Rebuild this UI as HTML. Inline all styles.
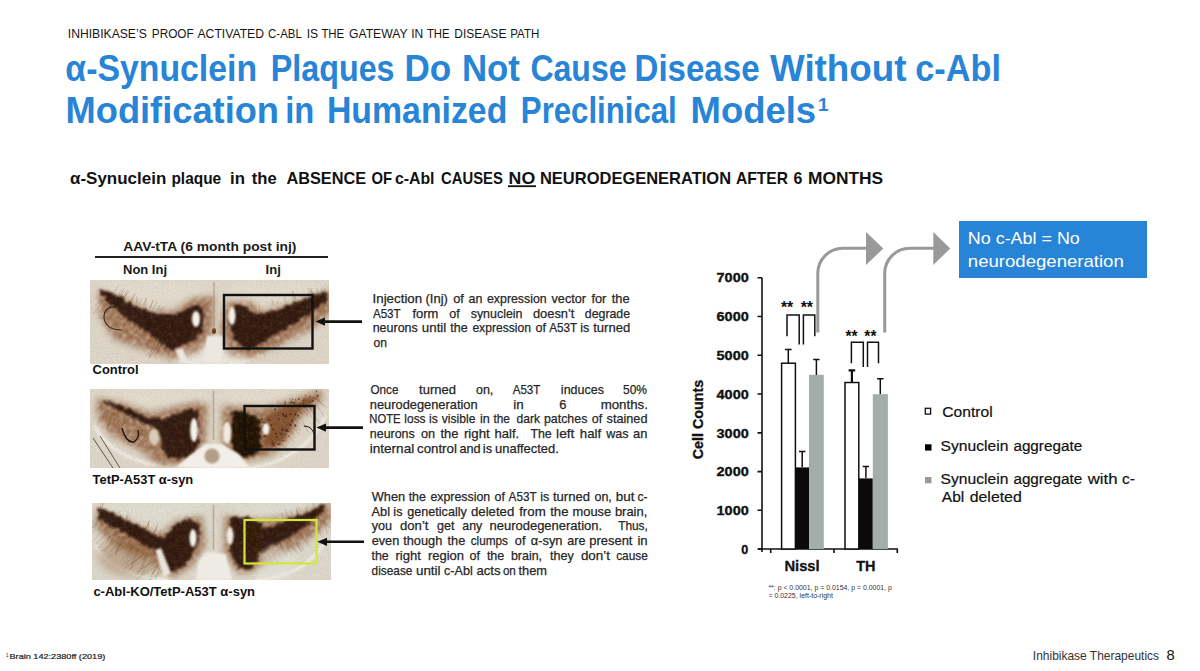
<!DOCTYPE html>
<html><head><meta charset="utf-8">
<style>
html,body{margin:0;padding:0;background:#fff;width:1200px;height:671px;overflow:hidden}
svg{display:block}
text{font-family:"Liberation Sans",sans-serif}
</style></head><body>
<svg width="1200" height="671" viewBox="0 0 1200 671">
<rect width="1200" height="671" fill="#fff"/>
<defs>
<filter id="bl1" x="-20%" y="-20%" width="140%" height="140%"><feGaussianBlur stdDeviation="1.2"/></filter>
<filter id="bl2" x="-30%" y="-30%" width="160%" height="160%"><feGaussianBlur stdDeviation="3"/></filter>
<filter id="bl3" x="-30%" y="-30%" width="160%" height="160%"><feGaussianBlur stdDeviation="5"/></filter>
<filter id="tex" x="0" y="0" width="100%" height="100%">
<feTurbulence type="fractalNoise" baseFrequency="0.8" numOctaves="2" seed="3" result="n"/>
<feColorMatrix in="n" type="matrix" values="0 0 0 0 0.35  0 0 0 0 0.2  0 0 0 0 0.08  2.5 0 0 0 -1.2" result="s"/>
<feComposite in="s" in2="SourceGraphic" operator="in"/>
</filter>
<filter id="rough" x="-10%" y="-10%" width="120%" height="120%">
<feTurbulence type="fractalNoise" baseFrequency="0.25" numOctaves="2" seed="7" result="t"/>
<feMorphology in="SourceGraphic" operator="erode" radius="2" result="er"/>
<feDisplacementMap in="er" in2="t" scale="7" xChannelSelector="R" yChannelSelector="G" result="d"/>
<feTurbulence type="fractalNoise" baseFrequency="0.45" numOctaves="2" seed="11" result="t2"/>
<feColorMatrix in="t2" type="matrix" values="0 0 0 0 0  0 0 0 0 0  0 0 0 0 0  2.0 0 0 0 0.15" result="a"/>
<feComposite in="d" in2="a" operator="in" result="da"/>
<feGaussianBlur in="da" stdDeviation="0.9"/>
</filter>
<clipPath id="c1"><rect x="90" y="280" width="239" height="84"/></clipPath>
<clipPath id="c2"><rect x="90" y="389" width="239" height="79"/></clipPath>
<clipPath id="c3"><rect x="92" y="503" width="239" height="77"/></clipPath>
<filter id="fib" x="-30%" y="-30%" width="160%" height="160%">
<feGaussianBlur in="SourceGraphic" stdDeviation="3" result="b"/>
<feTurbulence type="fractalNoise" baseFrequency="0.3" numOctaves="2" seed="21" result="t3"/>
<feColorMatrix in="t3" type="matrix" values="0 0 0 0 0  0 0 0 0 0  0 0 0 0 0  1.8 0 0 0 -0.1" result="a3"/>
<feComposite in="b" in2="a3" operator="in" result="c3"/>
<feGaussianBlur in="c3" stdDeviation="1.0"/>
</filter>
</defs><!-- IMAGE 1 -->
<g clip-path="url(#c1)">
<rect x="90" y="280" width="239" height="84" fill="#ddd6c9"/>
<ellipse cx="150" cy="292" rx="60" ry="12" fill="#e2dccf" filter="url(#bl3)"/>
<ellipse cx="275" cy="292" rx="50" ry="12" fill="#e2dccf" filter="url(#bl3)"/>
<ellipse cx="215" cy="355" rx="40" ry="12" fill="#ebe7df" filter="url(#bl3)"/>
<path d="M96 300 Q118 352 200 364 M322 300 Q300 352 230 364" stroke="#efece5" stroke-width="3" fill="none" filter="url(#bl1)"/>
<g fill="#8a5430" opacity="0.85" filter="url(#fib)">
<path d="M98 290 L125 299 L150 311 L175 311 L192 298 L214 296 L212 335 L198 352 L172 360 L150 352 L115 340 L100 318 Z"/>
<path d="M226 302 L250 302 L262 312 L290 304 L330 290 L332 312 L310 330 L280 346 L252 358 L228 354 L220 330 Z"/>
</g>
<g clip-path="url(#c1)"><path d="M142.0 326.5 L128.3 338.7 M161.5 342.2 L146.1 355.9 M105.8 297.4 L93.0 314.1 M143.6 327.8 L138.7 331.3 M132.6 319.0 L126.0 331.1 M139.0 324.1 L136.4 331.6 M121.0 309.7 L106.4 319.8 M113.7 303.8 L108.7 307.9 M141.7 326.3 L140.0 329.9 M157.2 338.7 L153.6 345.7 M163.9 344.1 L156.5 349.6 M162.7 343.1 L152.2 355.5 M116.5 306.0 L102.8 315.1 M163.0 343.4 L155.3 348.8 M126.0 313.7 L123.2 319.7 M108.0 299.2 L100.4 312.0 M104.2 296.2 L97.0 303.2 M122.9 311.2 L113.0 319.1 M123.3 311.5 L113.0 324.6 M107.5 298.8 L103.7 301.1 M149.7 332.7 L146.3 335.4 M152.1 334.6 L144.1 346.6 M104.6 296.4 L102.0 303.2 M162.3 342.8 L154.4 358.5 M160.7 341.6 L152.2 347.2 M125.6 313.4 L114.2 327.2 M110.6 301.3 L96.8 313.4 M156.4 338.1 L149.2 357.9 M109.6 300.5 L101.5 313.1 M160.0 341.0 L149.0 358.4 M137.3 322.7 L132.2 331.0 M114.8 304.7 L112.3 310.9 M146.0 329.8 L140.1 333.4 M107.0 298.4 L95.4 305.5 M128.8 315.9 L121.8 328.8 M154.4 336.5 L147.4 345.7 M107.4 298.7 L103.6 301.3 M134.1 320.2 L129.1 324.1 M148.6 331.9 L135.8 340.3 M152.1 334.6 L147.4 345.5 M113.1 303.3 L105.7 309.0 M131.6 318.2 L115.1 328.2 M163.5 343.8 L155.9 354.0 M148.5 331.7 L142.8 339.0 M128.6 315.8 L124.1 325.6" stroke="#6a4024" stroke-width="0.7" opacity="0.3" fill="none"/><path d="M159.3 311.7 L164.1 306.1 M132.0 301.0 L132.9 297.5 M119.2 296.0 L124.2 288.4 M124.2 297.9 L128.8 290.9 M142.9 305.3 L146.8 297.9 M124.4 298.0 L126.8 293.7 M131.2 300.7 L135.4 294.1 M120.5 296.5 L125.2 290.6 M136.5 302.8 L136.7 295.9 M118.0 295.5 L121.0 290.0 M149.7 308.0 L153.7 300.3 M123.5 297.7 L127.2 290.4 M150.4 308.2 L152.7 299.6 M152.7 309.1 L157.5 300.5 M157.6 311.0 L160.1 304.8 M113.3 293.7 L118.8 285.8 M130.7 300.5 L134.6 293.5 M144.9 306.1 L146.1 297.7 M136.5 302.8 L139.3 297.5 M138.9 303.7 L142.9 297.4" stroke="#6a4024" stroke-width="0.7" opacity="0.3" fill="none"/><path d="M302.6 311.1 L307.9 315.6 M280.3 324.3 L283.6 331.5 M299.9 312.8 L301.9 317.1 M282.7 322.8 L286.0 326.6 M255.7 338.7 L260.1 344.5 M260.5 335.9 L269.8 344.0 M275.4 327.1 L281.8 340.3 M264.0 333.8 L265.0 337.7 M277.4 325.9 L284.6 334.8 M254.2 339.6 L257.4 349.8 M247.9 343.3 L250.4 348.4 M288.6 319.4 L297.3 330.9 M321.7 300.0 L325.2 311.0 M310.0 306.8 L314.5 316.5 M256.4 338.3 L262.7 351.0 M321.6 300.0 L324.6 314.7 M273.1 328.5 L274.1 332.4 M253.6 339.9 L260.7 353.3 M256.3 338.4 L264.8 356.5 M275.1 327.3 L279.5 334.1 M268.3 331.3 L270.5 341.9 M321.9 299.8 L325.4 314.1 M265.8 332.8 L268.3 345.5 M278.2 325.5 L291.5 342.7 M284.3 321.9 L292.3 331.7 M254.8 339.3 L259.9 350.1 M268.4 331.2 L274.6 349.1 M246.1 344.4 L250.4 352.2 M319.8 301.0 L322.6 309.0 M266.4 332.4 L281.6 348.0 M268.5 331.2 L274.0 342.5 M296.6 314.7 L304.3 330.3 M254.5 339.4 L257.7 348.3 M287.7 319.9 L293.3 327.4 M287.4 320.1 L292.9 329.0 M304.6 310.0 L306.7 314.1 M265.2 333.1 L276.1 350.5 M316.0 303.3 L318.1 307.0 M307.3 308.4 L315.2 320.4 M301.7 311.7 L307.0 323.2" stroke="#6a4024" stroke-width="0.7" opacity="0.3" fill="none"/><path d="M318.4 293.8 L316.5 288.4 M313.9 295.0 L311.6 290.4 M312.3 295.4 L307.5 287.9 M302.1 298.1 L300.6 293.3 M308.6 296.4 L308.7 292.4 M285.9 302.4 L284.4 296.1 M274.8 305.4 L271.4 299.2 M310.9 295.8 L308.4 291.9 M311.5 295.6 L311.0 288.0 M251.9 311.5 L250.9 301.7 M324.9 292.0 L324.5 288.7 M313.2 295.2 L309.8 288.4 M321.4 293.0 L321.0 289.0 M271.9 306.2 L272.1 302.1 M295.8 299.8 L294.5 295.9 M296.7 299.6 L294.6 296.4 M278.4 304.4 L276.6 301.5 M293.1 300.5 L292.3 291.4 M260.1 309.3 L258.5 304.4 M295.0 300.0 L292.5 290.8" stroke="#6a4024" stroke-width="0.7" opacity="0.3" fill="none"/></g><g fill="#2e1307" filter="url(#rough)">
<path d="M98 287 L112 290 L127 298 L143 307 L160 312 L176 312 L190 304 L201 300 L206 312 L204 332 L197 342 L183 348 L170 354 L158 344 L146 335 L126 322 L110 307 L99 297 Z"/>
<path d="M232 302 L245 303 L256 312 L275 308 L295 300 L315 292 L329 288 L330 301 L312 316 L292 328 L272 340 L256 350 L244 351 L234 344 L228 330 L228 315 Z"/>
</g>
<rect x="90" y="280" width="239" height="84" fill="#7a4a25" filter="url(#tex)" opacity="0.22"/>
<path d="M116 307 Q104 306 104 318 Q106 330 122 330" fill="none" stroke="#2a1a10" stroke-width="1.2" opacity="0.85"/><path d="M116 307 Q126 310 124 322" fill="none" stroke="#5a4030" stroke-width="0.8" opacity="0.5"/>
<ellipse cx="196" cy="319" rx="4" ry="8" fill="#f4f2ec" filter="url(#bl1)"/>
<ellipse cx="232" cy="316" rx="3.5" ry="9" fill="#f4f2ec" filter="url(#bl1)"/>
<path d="M207 336 L223 336 L221 362 L203 362 Z" fill="#ece8e0" filter="url(#bl1)"/>
<path d="M175 350 L181 362 L188 362 L183 348 Z" fill="#ece8e0" filter="url(#bl1)"/>
<ellipse cx="214" cy="331" rx="2" ry="3" fill="#6a3a1c"/>
<path d="M214 282 V330" stroke="#a58a70" stroke-width="1.5" opacity="0.6"/>
</g>
<rect x="224" y="295" width="88.5" height="53.5" fill="none" stroke="#111" stroke-width="2.4"/>
<!-- IMAGE 2 -->
<g clip-path="url(#c2)">
<rect x="90" y="389" width="239" height="79" fill="#ddd6c9"/>
<ellipse cx="150" cy="398" rx="60" ry="10" fill="#e2dccf" filter="url(#bl3)"/>
<ellipse cx="270" cy="396" rx="50" ry="9" fill="#e2dccf" filter="url(#bl3)"/>
<path d="M94 425 Q112 462 175 468 M326 415 Q305 460 250 468" stroke="#efece5" stroke-width="3" fill="none" filter="url(#bl1)"/>
<g fill="#8a5430" opacity="0.85" filter="url(#fib)">
<path d="M96 398 L120 402 L150 413 L170 408 L195 402 L208 405 L205 445 L198 464 L160 466 L140 450 L112 436 L98 418 Z"/>
<path d="M222 406 L262 408 L295 398 L322 390 L322 400 L300 418 L288 440 L270 456 L240 462 L222 452 Z"/>
</g>
<g fill="#7a4624" opacity="0.8" filter="url(#rough)">
<path d="M262 416 L280 406 L300 398 L318 393 L318 402 L302 412 L294 426 L286 442 L272 450 L262 448 Z"/>
</g>
<g clip-path="url(#c2)"><path d="M121.7 416.7 L118.1 432.9 M108.8 409.1 L101.1 419.8 M152.8 435.0 L144.6 447.7 M115.3 413.0 L110.7 420.2 M143.5 429.5 L140.2 435.0 M113.6 412.0 L106.2 427.6 M110.4 410.1 L100.5 422.4 M104.9 406.9 L101.5 411.4 M107.2 408.2 L102.6 415.1 M150.9 433.8 L146.0 442.4 M146.2 431.1 L142.8 447.8 M103.1 405.8 L97.2 426.1 M139.5 427.2 L137.5 432.9 M156.4 437.1 L145.1 452.1 M108.1 408.8 L102.1 417.2 M113.6 412.0 L107.6 425.8 M120.2 415.9 L117.4 421.7 M148.2 432.3 L137.3 447.1 M125.1 418.7 L115.8 428.2 M134.4 424.1 L124.9 438.6 M122.9 417.4 L121.8 421.9 M111.7 410.9 L107.6 430.5 M127.9 420.4 L125.3 423.4 M127.3 420.0 L116.4 430.5 M124.9 418.6 L122.1 423.6 M109.0 409.3 L105.9 419.5 M122.4 417.1 L117.6 421.8 M114.7 412.6 L112.2 419.1 M116.6 413.8 L112.4 425.7 M101.9 405.1 L94.0 412.3 M154.4 435.9 L144.5 448.6 M127.4 420.0 L122.8 424.1 M138.8 426.7 L132.7 441.7 M142.3 428.8 L140.1 436.1 M101.4 404.8 L99.6 409.9 M123.3 417.6 L115.2 424.5 M118.1 414.6 L113.7 422.6 M142.5 428.9 L138.1 434.3 M114.0 412.2 L101.3 428.8 M137.5 426.0 L127.5 445.1" stroke="#6a4024" stroke-width="0.7" opacity="0.3" fill="none"/><path d="M265.3 439.7 L280.3 449.8 M286.7 422.8 L298.3 430.4 M317.4 398.4 L323.7 406.6 M270.0 436.1 L286.6 447.5 M291.0 419.4 L292.8 424.0 M277.9 429.8 L287.2 435.9 M268.2 437.5 L276.6 445.0 M281.2 427.2 L285.1 429.7 M316.5 399.2 L326.8 407.4 M286.3 423.1 L289.7 427.5 M281.6 426.8 L292.8 434.9 M313.8 401.3 L324.8 417.3 M276.4 431.0 L288.0 438.3 M290.8 419.6 L297.1 428.3 M298.1 413.7 L308.1 431.6 M281.3 427.1 L293.5 441.4 M276.9 430.6 L284.6 436.3 M269.6 436.3 L278.3 453.0 M281.6 426.9 L286.0 430.1 M278.0 429.7 L287.6 436.4 M295.6 415.8 L299.4 419.1 M302.1 410.6 L308.5 414.8 M280.2 428.0 L284.1 432.2 M287.3 422.3 L299.9 434.6 M294.5 416.6 L300.5 431.2 M305.3 408.1 L312.2 417.8 M308.3 405.7 L319.6 423.6 M303.6 409.4 L308.0 417.0 M308.0 405.9 L312.4 410.5 M268.5 437.2 L275.3 442.6 M300.8 411.6 L304.6 415.1 M305.5 407.9 L308.1 411.6 M267.7 437.9 L276.0 444.1 M310.6 403.9 L315.8 418.0 M277.2 430.3 L284.2 438.2 M282.5 426.1 L294.8 433.8 M308.8 405.3 L311.6 410.3 M293.1 417.7 L306.2 428.1 M288.6 421.3 L295.2 438.4 M271.3 435.0 L285.9 449.3" stroke="#6a4024" stroke-width="0.7" opacity="0.3" fill="none"/><path d="M287.8 407.9 L285.3 402.3 M305.0 401.1 L304.5 394.4 M316.3 396.7 L315.2 393.1 M307.6 400.1 L306.2 397.0 M316.8 396.5 L312.2 391.1 M289.0 407.4 L288.4 401.7 M274.1 413.3 L271.8 409.5 M293.5 405.6 L289.7 398.3 M275.5 412.7 L273.3 408.5 M317.0 396.4 L315.8 387.5 M296.6 404.4 L294.9 400.8 M308.6 399.7 L307.4 396.7 M271.5 414.3 L266.6 407.9 M312.4 398.2 L307.7 391.0 M280.1 410.9 L277.9 402.1" stroke="#6a4024" stroke-width="0.7" opacity="0.3" fill="none"/></g><g fill="#2e1307" filter="url(#rough)">
<path d="M98 397 L115 401 L135 408 L150 416 L162 417 L175 411 L190 406 L200 408 L201 440 L197 458 L180 462 L166 460 L160 448 L156 432 L140 424 L120 414 L102 405 Z"/>
<path d="M230 408 L250 410 L262 418 L263 450 L256 458 L236 459 L229 445 Z" fill="#1f0d06"/>
</g>
<rect x="90" y="389" width="239" height="79" fill="#7a4a25" filter="url(#tex)" opacity="0.22"/>
<g fill="#2a1208" opacity="0.6"><circle cx="286.7" cy="414.3" r="0.6"/><circle cx="263.0" cy="426.0" r="0.9"/><circle cx="303.0" cy="400.2" r="0.7"/><circle cx="264.9" cy="422.9" r="1.1"/><circle cx="281.8" cy="438.5" r="0.6"/><circle cx="276.1" cy="433.8" r="1.0"/><circle cx="275.4" cy="442.6" r="0.6"/><circle cx="264.9" cy="428.8" r="0.6"/><circle cx="263.2" cy="425.1" r="0.5"/><circle cx="263.3" cy="422.3" r="1.1"/><circle cx="284.0" cy="415.9" r="0.9"/><circle cx="263.8" cy="427.7" r="0.6"/><circle cx="295.6" cy="399.7" r="0.7"/><circle cx="265.5" cy="435.9" r="1.2"/><circle cx="272.7" cy="429.7" r="0.5"/><circle cx="280.7" cy="433.8" r="0.9"/><circle cx="306.0" cy="395.6" r="0.7"/><circle cx="286.0" cy="416.1" r="1.2"/><circle cx="284.9" cy="403.9" r="0.8"/><circle cx="288.8" cy="436.1" r="0.7"/><circle cx="282.9" cy="414.2" r="1.1"/><circle cx="280.9" cy="433.4" r="0.6"/><circle cx="310.3" cy="406.8" r="0.5"/><circle cx="282.1" cy="429.8" r="1.2"/><circle cx="292.8" cy="398.9" r="0.6"/><circle cx="262.1" cy="419.3" r="1.0"/><circle cx="313.0" cy="401.0" r="1.0"/><circle cx="268.7" cy="430.9" r="0.6"/><circle cx="306.4" cy="404.5" r="0.5"/><circle cx="268.9" cy="419.7" r="0.9"/><circle cx="290.5" cy="424.9" r="1.1"/><circle cx="262.1" cy="431.8" r="0.9"/><circle cx="276.6" cy="437.1" r="1.0"/><circle cx="264.4" cy="435.5" r="0.8"/><circle cx="288.4" cy="431.4" r="0.5"/><circle cx="295.4" cy="414.3" r="1.1"/><circle cx="272.3" cy="443.5" r="1.0"/><circle cx="269.7" cy="429.5" r="0.6"/><circle cx="287.2" cy="424.8" r="0.5"/><circle cx="309.6" cy="396.9" r="0.7"/><circle cx="272.3" cy="440.7" r="0.6"/><circle cx="290.4" cy="414.0" r="0.9"/><circle cx="290.1" cy="402.8" r="0.8"/><circle cx="316.5" cy="391.4" r="0.6"/><circle cx="273.6" cy="445.4" r="0.9"/><circle cx="275.1" cy="409.5" r="1.1"/><circle cx="318.0" cy="396.1" r="0.7"/><circle cx="273.3" cy="429.3" r="0.8"/><circle cx="279.5" cy="444.4" r="0.8"/><circle cx="286.6" cy="429.7" r="0.9"/><circle cx="285.3" cy="402.1" r="0.8"/><circle cx="291.7" cy="402.3" r="1.0"/><circle cx="298.8" cy="399.0" r="0.9"/><circle cx="278.9" cy="419.1" r="0.9"/><circle cx="303.5" cy="403.7" r="0.9"/><circle cx="292.3" cy="420.6" r="1.1"/><circle cx="278.1" cy="444.2" r="0.9"/><circle cx="264.1" cy="436.6" r="0.7"/><circle cx="298.2" cy="415.7" r="1.1"/><circle cx="300.8" cy="413.3" r="0.7"/><circle cx="277.9" cy="415.0" r="0.6"/><circle cx="304.8" cy="407.7" r="0.6"/><circle cx="286.0" cy="434.2" r="0.7"/><circle cx="278.5" cy="438.6" r="0.7"/><circle cx="295.3" cy="425.5" r="1.2"/><circle cx="271.1" cy="425.3" r="1.1"/><circle cx="286.7" cy="431.1" r="1.2"/><circle cx="317.8" cy="395.5" r="0.7"/><circle cx="294.0" cy="403.0" r="1.1"/><circle cx="283.2" cy="440.7" r="0.8"/></g>
<ellipse cx="154" cy="437" rx="5" ry="8" fill="#d9cdb8" filter="url(#bl1)"/>
<path d="M122 428 Q126 443 134 442 Q140 438 138 430" stroke="#1a0f08" stroke-width="1.3" fill="none"/>
<path d="M93 438 L113 468 M100 436 L120 468" stroke="#2a2520" stroke-width="0.9" fill="none" opacity="0.8"/>
<ellipse cx="194" cy="430" rx="3.8" ry="12" fill="#f4f2ec" filter="url(#bl1)"/>
<ellipse cx="227" cy="433" rx="4" ry="11" fill="#f0ece4" filter="url(#bl1)"/>
<ellipse cx="266" cy="429" rx="3.5" ry="6" fill="#f4f2ec" filter="url(#bl1)"/>
<path d="M175 468 L190 455 L205 444 L222 444 L240 455 L250 468 Z" fill="#f2efe8" filter="url(#bl1)"/>
<circle cx="212" cy="456" r="7.5" fill="#b49c86" filter="url(#bl1)"/>
<path d="M213.5 391 V440" stroke="#a58a70" stroke-width="1.5" opacity="0.6"/>
<path d="M304 426 Q311 426 314 433" stroke="#1a0f08" stroke-width="1" fill="none"/>
</g>
<rect x="244.5" y="406" width="70" height="43.5" fill="none" stroke="#111" stroke-width="2.4"/>
<!-- IMAGE 3 -->
<g clip-path="url(#c3)">
<rect x="92" y="503" width="239" height="77" fill="#dcd8cc"/>
<ellipse cx="150" cy="512" rx="60" ry="10" fill="#e0dcd0" filter="url(#bl3)"/>
<ellipse cx="280" cy="512" rx="50" ry="9" fill="#e0dcd0" filter="url(#bl3)"/>
<path d="M95 545 Q112 576 170 580 M326 540 Q305 577 255 580" stroke="#eef0ea" stroke-width="3" fill="none" filter="url(#bl1)"/>
<ellipse cx="132" cy="556" rx="34" ry="20" fill="#a58260" opacity="0.55" filter="url(#bl3)"/>
<g fill="#8a5430" opacity="0.85" filter="url(#fib)">
<path d="M96 510 L130 522 L160 535 L178 520 L202 516 L206 545 L192 566 L172 578 L150 560 L118 548 L96 528 Z"/>
<path d="M224 516 L262 520 L300 514 L330 502 L332 520 L310 538 L280 556 L262 568 L240 574 L224 556 Z"/>
</g>
<g clip-path="url(#c3)"><path d="M139.7 549.3 L129.1 557.8 M98.7 515.6 L86.8 529.8 M110.4 525.2 L103.3 535.2 M99.8 516.5 L92.5 528.2 M129.9 541.2 L119.4 550.8 M163.8 569.0 L143.1 585.2 M144.4 553.1 L131.9 565.1 M151.5 558.9 L141.1 574.4 M143.5 552.4 L136.1 561.2 M103.2 519.3 L98.1 531.4 M136.9 546.9 L120.5 560.8 M118.6 531.9 L109.1 538.1 M146.0 554.4 L137.5 575.1 M142.9 551.8 L121.2 565.5 M144.1 552.8 L126.5 566.1 M138.9 548.6 L131.1 563.6 M158.0 564.3 L144.8 588.3 M134.4 544.9 L131.5 549.1 M124.1 536.5 L115.2 554.4 M158.3 564.5 L142.5 575.2 M123.9 536.3 L115.5 555.4 M135.1 545.4 L125.0 554.5 M157.4 563.8 L151.8 574.4 M115.9 529.7 L98.0 548.1 M109.2 524.2 L93.3 540.3 M113.1 527.4 L106.3 544.1 M153.6 560.7 L135.9 573.3 M125.9 537.9 L115.7 551.7 M158.6 564.8 L152.6 574.5 M138.6 548.3 L130.7 553.2 M100.0 516.7 L92.8 533.1 M138.4 548.2 L134.2 556.6 M137.8 547.7 L123.0 562.4 M146.8 555.1 L140.8 570.1 M153.9 560.9 L143.5 567.5 M155.0 561.8 L136.3 580.3 M113.3 527.6 L95.5 544.1 M129.9 541.2 L126.2 549.9 M108.5 523.6 L105.2 531.4 M139.3 548.9 L130.3 569.4 M147.3 555.5 L128.8 569.9 M145.8 554.2 L123.3 569.2 M139.9 549.4 L133.6 553.3 M104.9 520.7 L101.3 529.7 M123.1 535.6 L110.5 551.9 M147.8 555.9 L142.3 569.0 M134.4 544.9 L130.1 551.2 M138.0 547.8 L126.3 565.0 M131.2 542.3 L108.5 556.4 M102.8 519.0 L86.3 532.9 M117.8 531.3 L111.3 545.9 M121.7 534.5 L102.0 551.7 M123.6 536.0 L115.1 550.1 M144.7 553.3 L130.5 564.8 M117.8 531.3 L104.5 551.9 M132.8 543.6 L127.4 557.2 M113.9 528.1 L109.1 532.7 M116.2 529.9 L109.9 544.6 M164.0 569.2 L154.9 579.6 M160.6 566.4 L155.4 578.5" stroke="#6a4024" stroke-width="0.7" opacity="0.3" fill="none"/><path d="M148.3 530.3 L148.6 521.9 M120.4 519.0 L120.6 514.3 M126.4 521.5 L128.4 515.1 M101.3 511.3 L103.1 501.7 M125.4 521.1 L126.7 517.7 M115.3 517.0 L120.3 511.0 M129.5 522.7 L129.9 517.0 M146.3 529.5 L148.6 522.7 M153.9 532.6 L157.4 526.0 M100.2 510.9 L100.7 502.5 M123.6 520.3 L128.9 513.3 M154.8 532.9 L157.7 523.3 M144.9 528.9 L147.4 525.7 M146.4 529.5 L149.6 520.2 M159.6 534.9 L160.7 529.0 M114.8 516.8 L116.6 512.1 M139.3 526.7 L139.8 522.5 M126.4 521.4 L126.9 515.8 M153.6 532.4 L156.3 529.0 M99.1 510.5 L104.7 502.5" stroke="#6a4024" stroke-width="0.7" opacity="0.3" fill="none"/><path d="M299.7 524.8 L307.0 531.3 M320.0 511.4 L321.5 516.8 M273.6 542.2 L279.8 550.5 M309.5 518.3 L322.3 534.3 M271.6 543.6 L284.9 564.2 M306.2 520.5 L311.8 525.1 M302.5 523.0 L310.3 532.6 M292.1 529.9 L304.4 550.9 M277.2 539.9 L282.5 548.7 M296.4 527.1 L299.5 534.1 M292.3 529.8 L294.5 534.5 M310.6 517.6 L319.6 529.7 M300.5 524.4 L302.7 530.0 M293.5 529.0 L303.6 536.8 M283.8 535.5 L292.5 542.1 M290.4 531.1 L301.2 551.9 M285.3 534.4 L295.7 550.7 M321.0 510.6 L327.7 534.5 M281.0 537.3 L298.3 553.4 M266.9 546.7 L278.4 562.8 M295.3 527.8 L309.8 546.3 M280.9 537.4 L292.2 555.8 M270.7 544.2 L280.2 555.7 M297.7 526.2 L307.7 536.1 M265.8 547.5 L274.9 555.1 M271.1 544.0 L273.7 553.9 M279.4 538.4 L286.9 556.8 M278.5 539.0 L284.6 555.4 M286.5 533.7 L291.2 542.4 M278.6 538.9 L283.0 552.0 M318.5 512.3 L324.2 517.6 M265.3 547.8 L271.9 562.6 M262.6 549.6 L279.5 562.8 M293.1 529.2 L295.0 534.7 M299.1 525.3 L313.8 538.0 M300.5 524.3 L305.1 532.6 M321.8 510.1 L326.5 514.2 M305.1 521.3 L310.0 525.3 M291.0 530.7 L301.6 550.9 M307.4 519.7 L321.3 531.0 M315.1 514.6 L330.3 527.8 M278.3 539.1 L281.6 542.9 M309.8 518.2 L322.3 537.5 M291.3 530.4 L298.2 536.7 M278.6 538.9 L281.1 547.7" stroke="#6a4024" stroke-width="0.7" opacity="0.3" fill="none"/><path d="M260.9 527.8 L259.3 524.6 M283.5 519.4 L281.5 512.1 M266.7 525.6 L263.0 520.4 M301.0 512.8 L298.3 506.3 M316.1 507.2 L313.3 503.2 M288.1 517.7 L285.1 508.9 M292.2 516.1 L290.8 510.4 M307.5 510.4 L306.9 505.4 M262.2 527.3 L259.5 522.5 M314.6 507.8 L310.9 501.3 M297.9 514.0 L297.8 510.2 M306.6 510.8 L304.9 507.4 M297.3 514.2 L296.5 507.2 M258.3 528.8 L258.2 523.1 M297.6 514.1 L296.7 509.4" stroke="#6a4024" stroke-width="0.7" opacity="0.3" fill="none"/></g><g fill="#2e1307" filter="url(#rough)">
<path d="M94 505 L110 509 L130 519 L150 529 L162 535 L170 527 L178 519 L192 517 L202 522 L200 545 L192 562 L180 572 L172 577 L163 567 L155 555 L138 544 L118 533 L97 521 Z"/>
<path d="M228 515 L250 515 L264 522 L264 545 L260 562 L252 572 L236 570 L228 555 Z"/>
<path d="M248 531 L270 524 L290 516 L310 508 L326 501 L329 510 L313 523 L293 538 L273 549 L262 556 Z"/>
</g>
<rect x="92" y="503" width="239" height="77" fill="#7a4a25" filter="url(#tex)" opacity="0.22"/>
<path d="M155 550 L161 548 L171 573 L164 578 Z" fill="#e8e4da" filter="url(#bl1)"/>
<ellipse cx="193" cy="538" rx="3.5" ry="9" fill="#f4f2ec" filter="url(#bl1)"/>
<ellipse cx="230" cy="536" rx="3.5" ry="9" fill="#f0ece4" filter="url(#bl1)"/>
<path d="M262 553 L275 545 L295 555 L290 580 L255 580 Z" fill="#e4e2da" opacity="0.6" filter="url(#bl2)"/>
<path d="M198 562 L206 552 L226 554 L232 580 L196 580 Z" fill="#eeebe4" filter="url(#bl1)"/>
<path d="M213.5 505 V550" stroke="#a58a70" stroke-width="1.5" opacity="0.6"/>
</g>
<rect x="244.5" y="520" width="72" height="43.5" fill="none" stroke="#d4e634" stroke-width="2.2"/>
<!-- arrows from text to images -->
<g stroke="#111" stroke-width="2.6" fill="none">
<path d="M322 321.6 H362"/>
<path d="M323 427.6 H363"/>
<path d="M324 541.8 H364"/>
</g>
<g fill="#111">
<path d="M315.5 321.6 L325 317.5 L325 325.7 Z"/>
<path d="M316.4 427.6 L326 423.5 L326 431.7 Z"/>
<path d="M317.3 541.8 L327 537.7 L327 545.9 Z"/>
</g>

<g id="chart" stroke-linecap="butt">
<g stroke="#111" stroke-width="1.6" fill="none">
<path d="M762 277.7 V552"/>
<path d="M757.5 277.7 H762 M757.5 316.5 H762 M757.5 355.3 H762 M757.5 394 H762 M757.5 432.9 H762 M757.5 471.6 H762 M757.5 510.3 H762 M757.5 549 H762"/>
<path d="M758 549 H898 M770.7 549 V553 M834 549 V553 M897.3 549 V553"/>
</g>
<text transform="translate(703.3 459.3) rotate(-90)" font-size="14" font-weight="bold" fill="#111" stroke="#111" stroke-width="0.3" textLength="79.6" lengthAdjust="spacingAndGlyphs">Cell Counts</text>
<!-- bars -->
<rect x="781.6" y="363.2" width="13.8" height="185.8" fill="#fff" stroke="#111" stroke-width="1.5"/>
<rect x="795.4" y="467.4" width="13.6" height="81.6" fill="#0a0a0a"/>
<rect x="809" y="374.8" width="14.8" height="174.2" fill="#a3adac"/>
<rect x="845" y="382.5" width="13.8" height="166.5" fill="#fff" stroke="#111" stroke-width="1.5"/>
<rect x="859" y="478.4" width="13.8" height="70.6" fill="#0a0a0a"/>
<rect x="872.8" y="394.2" width="15.1" height="154.8" fill="#a3adac"/>
<g stroke="#111" stroke-width="1.5" fill="none">
<path d="M788.3 363 V349.6 M785 349.6 H791.6"/>
<path d="M802.2 467 V451.5 M799 451.5 H805.4"/>
<path d="M816.4 375 V359.4 M813.2 359.4 H819.6"/>
<path d="M851.9 382 V370.3 M848.6 370.3 H855.2" stroke-width="2.2"/>
<path d="M865.9 478 V466.6 M862.7 466.6 H869.1"/>
<path d="M880.3 394 V378.8 M877.1 378.8 H883.5"/>
<path d="M787 336.2 V314.9 H799.2 V344.6"/>
<path d="M803.4 344.6 V314.9 H814.8 V336.2"/>
<path d="M851.4 363.3 V342.2 H863.3 V367"/>
<path d="M867.5 367 V342.2 H878.5 V363.3"/>
</g>
<g stroke="#999" stroke-width="3" fill="none">
<path d="M817.8 332.5 V273.3 A25 25 0 0 1 842.8 248.3 H867"/>
<path d="M884.7 332.5 V273.3 A25 25 0 0 1 909.7 248.3 H934"/>
</g>
<g fill="#999">
<path d="M866 232 L883.3 248.5 L866 265 Z"/>
<path d="M933.3 232 L950.2 248.5 L933.3 265 Z"/>
</g>
</g>



<rect x="508" y="185.3" width="28" height="1.8" fill="#111"/>
<rect x="95" y="256" width="233" height="2" fill="#222"/>
<rect x="959" y="221" width="188" height="57" fill="#2784D6"/>
<rect x="925.3" y="408.3" width="5.3" height="5.8" fill="#fff" stroke="#111" stroke-width="1.3"/>
<rect x="925" y="444.3" width="6.5" height="6.3" fill="#000"/>
<rect x="925" y="477" width="6.5" height="6.3" fill="#9a9a9a"/>
<text x="67.78" y="38.00" font-size="12.5" fill="#151515" textLength="79.00" lengthAdjust="spacingAndGlyphs">INHIBIKASE’S</text>
<text x="151.75" y="38.00" font-size="12.5" fill="#151515" textLength="41.99" lengthAdjust="spacingAndGlyphs">PROOF</text>
<text x="197.50" y="38.00" font-size="12.5" fill="#151515" textLength="66.54" lengthAdjust="spacingAndGlyphs">ACTIVATED</text>
<text x="268.08" y="38.00" font-size="12.5" fill="#151515" textLength="33.68" lengthAdjust="spacingAndGlyphs">C-ABL</text>
<text x="306.71" y="38.00" font-size="12.5" fill="#151515" textLength="11.48" lengthAdjust="spacingAndGlyphs">IS</text>
<text x="321.42" y="38.00" font-size="12.5" fill="#151515" textLength="22.81" lengthAdjust="spacingAndGlyphs">THE</text>
<text x="349.00" y="38.00" font-size="12.5" fill="#151515" textLength="58.48" lengthAdjust="spacingAndGlyphs">GATEWAY</text>
<text x="411.25" y="38.00" font-size="12.5" fill="#151515" textLength="12.01" lengthAdjust="spacingAndGlyphs">IN</text>
<text x="426.92" y="38.00" font-size="12.5" fill="#151515" textLength="22.65" lengthAdjust="spacingAndGlyphs">THE</text>
<text x="454.24" y="38.00" font-size="12.5" fill="#151515" textLength="52.19" lengthAdjust="spacingAndGlyphs">DISEASE</text>
<text x="510.29" y="38.00" font-size="12.5" fill="#151515" textLength="28.95" lengthAdjust="spacingAndGlyphs">PATH</text>
<text x="65.36" y="80.90" font-size="37.8" font-weight="bold" fill="#2784D6" textLength="191.77" lengthAdjust="spacingAndGlyphs">α-Synuclein</text>
<text x="270.79" y="80.90" font-size="37.8" font-weight="bold" fill="#2784D6" textLength="123.77" lengthAdjust="spacingAndGlyphs">Plaques</text>
<text x="404.41" y="80.90" font-size="37.8" font-weight="bold" fill="#2784D6" textLength="46.86" lengthAdjust="spacingAndGlyphs">Do</text>
<text x="461.91" y="80.90" font-size="37.8" font-weight="bold" fill="#2784D6" textLength="58.08" lengthAdjust="spacingAndGlyphs">Not</text>
<text x="530.40" y="80.90" font-size="37.8" font-weight="bold" fill="#2784D6" textLength="96.23" lengthAdjust="spacingAndGlyphs">Cause</text>
<text x="634.50" y="80.90" font-size="37.8" font-weight="bold" fill="#2784D6" textLength="125.04" lengthAdjust="spacingAndGlyphs">Disease</text>
<text x="770.00" y="80.90" font-size="37.8" font-weight="bold" fill="#2784D6" textLength="136.52" lengthAdjust="spacingAndGlyphs">Without</text>
<text x="915.34" y="80.90" font-size="37.8" font-weight="bold" fill="#2784D6" textLength="85.62" lengthAdjust="spacingAndGlyphs">c-Abl</text>
<text x="65.58" y="123.00" font-size="37.8" font-weight="bold" fill="#2784D6" textLength="213.42" lengthAdjust="spacingAndGlyphs">Modification</text>
<text x="285.29" y="123.00" font-size="37.8" font-weight="bold" fill="#2784D6" textLength="29.07" lengthAdjust="spacingAndGlyphs">in</text>
<text x="326.96" y="123.00" font-size="37.8" font-weight="bold" fill="#2784D6" textLength="180.37" lengthAdjust="spacingAndGlyphs">Humanized</text>
<text x="520.85" y="123.00" font-size="37.8" font-weight="bold" fill="#2784D6" textLength="155.89" lengthAdjust="spacingAndGlyphs">Preclinical</text>
<text x="690.57" y="123.00" font-size="37.8" font-weight="bold" fill="#2784D6" textLength="125.60" lengthAdjust="spacingAndGlyphs">Models</text>
<text x="817.92" y="110.50" font-size="17.5" font-weight="bold" fill="#2784D6" textLength="10.55" lengthAdjust="spacingAndGlyphs">1</text>
<text x="70.00" y="183.50" font-size="16.2" font-weight="bold" fill="#111" textLength="96.25" lengthAdjust="spacingAndGlyphs">α-Synuclein</text>
<text x="171.45" y="183.50" font-size="16.2" font-weight="bold" fill="#111" textLength="49.72" lengthAdjust="spacingAndGlyphs">plaque</text>
<text x="230.02" y="183.50" font-size="16.2" font-weight="bold" fill="#111" textLength="14.92" lengthAdjust="spacingAndGlyphs">in</text>
<text x="251.80" y="183.50" font-size="16.2" font-weight="bold" fill="#111" textLength="24.88" lengthAdjust="spacingAndGlyphs">the</text>
<text x="286.40" y="183.50" font-size="16.2" font-weight="bold" fill="#111" textLength="79.76" lengthAdjust="spacingAndGlyphs">ABSENCE</text>
<text x="371.42" y="183.50" font-size="16.2" font-weight="bold" fill="#111" textLength="20.60" lengthAdjust="spacingAndGlyphs">OF</text>
<text x="394.92" y="183.50" font-size="16.2" font-weight="bold" fill="#111" textLength="39.61" lengthAdjust="spacingAndGlyphs">c-Abl</text>
<text x="441.00" y="183.50" font-size="16.2" font-weight="bold" fill="#111" textLength="61.83" lengthAdjust="spacingAndGlyphs">CAUSES</text>
<text x="508.63" y="183.50" font-size="16.2" font-weight="bold" fill="#111" textLength="26.56" lengthAdjust="spacingAndGlyphs">NO</text>
<text x="539.98" y="183.50" font-size="16.2" font-weight="bold" fill="#111" textLength="191.10" lengthAdjust="spacingAndGlyphs">NEURODEGENERATION</text>
<text x="736.00" y="183.50" font-size="16.2" font-weight="bold" fill="#111" textLength="51.95" lengthAdjust="spacingAndGlyphs">AFTER</text>
<text x="793.58" y="183.50" font-size="16.2" font-weight="bold" fill="#111" textLength="8.86" lengthAdjust="spacingAndGlyphs">6</text>
<text x="807.93" y="183.50" font-size="16.2" font-weight="bold" fill="#111" textLength="75.22" lengthAdjust="spacingAndGlyphs">MONTHS</text>
<text x="123.30" y="250.80" font-size="12.8" font-weight="bold" fill="#1a1a1a" textLength="173.16" lengthAdjust="spacingAndGlyphs">AAV-tTA (6 month post inj)</text>
<text x="123.00" y="274.00" font-size="12.2" font-weight="bold" fill="#1a1a1a" textLength="44.02" lengthAdjust="spacingAndGlyphs">Non Inj</text>
<text x="265.64" y="274.00" font-size="12.2" font-weight="bold" fill="#1a1a1a" textLength="15.18" lengthAdjust="spacingAndGlyphs">Inj</text>
<text x="92.60" y="374.00" font-size="12.8" font-weight="bold" fill="#111" textLength="45.90" lengthAdjust="spacingAndGlyphs">Control</text>
<text x="92.60" y="483.80" font-size="12.8" font-weight="bold" fill="#111" textLength="100.58" lengthAdjust="spacingAndGlyphs">TetP-A53T α-syn</text>
<text x="93.40" y="596.40" font-size="12.8" font-weight="bold" fill="#111" textLength="161.68" lengthAdjust="spacingAndGlyphs">c-Abl-KO/TetP-A53T α-syn</text>
<text x="372.57" y="302.60" font-size="12.9" fill="#262626" textLength="49.58" lengthAdjust="spacingAndGlyphs" stroke="#262626" stroke-width="0.25">Injection</text>
<text x="425.50" y="302.60" font-size="12.9" fill="#262626" textLength="22.40" lengthAdjust="spacingAndGlyphs" stroke="#262626" stroke-width="0.25">(Inj)</text>
<text x="453.15" y="302.60" font-size="12.9" fill="#262626" textLength="10.76" lengthAdjust="spacingAndGlyphs" stroke="#262626" stroke-width="0.25">of</text>
<text x="468.62" y="302.60" font-size="12.9" fill="#262626" textLength="13.90" lengthAdjust="spacingAndGlyphs" stroke="#262626" stroke-width="0.25">an</text>
<text x="487.00" y="302.60" font-size="12.9" fill="#262626" textLength="59.63" lengthAdjust="spacingAndGlyphs" stroke="#262626" stroke-width="0.25">expression</text>
<text x="551.54" y="302.60" font-size="12.9" fill="#262626" textLength="34.42" lengthAdjust="spacingAndGlyphs" stroke="#262626" stroke-width="0.25">vector</text>
<text x="591.38" y="302.60" font-size="12.9" fill="#262626" textLength="14.99" lengthAdjust="spacingAndGlyphs" stroke="#262626" stroke-width="0.25">for</text>
<text x="611.78" y="302.60" font-size="12.9" fill="#262626" textLength="17.86" lengthAdjust="spacingAndGlyphs" stroke="#262626" stroke-width="0.25">the</text>
<text x="372.90" y="317.60" font-size="12.9" fill="#262626" textLength="27.73" lengthAdjust="spacingAndGlyphs" stroke="#262626" stroke-width="0.25">A53T</text>
<text x="412.48" y="317.60" font-size="12.9" fill="#262626" textLength="25.94" lengthAdjust="spacingAndGlyphs" stroke="#262626" stroke-width="0.25">form</text>
<text x="449.28" y="317.60" font-size="12.9" fill="#262626" textLength="10.50" lengthAdjust="spacingAndGlyphs" stroke="#262626" stroke-width="0.25">of</text>
<text x="470.70" y="317.60" font-size="12.9" fill="#262626" textLength="51.82" lengthAdjust="spacingAndGlyphs" stroke="#262626" stroke-width="0.25">synuclein</text>
<text x="532.95" y="317.60" font-size="12.9" fill="#262626" textLength="41.48" lengthAdjust="spacingAndGlyphs" stroke="#262626" stroke-width="0.25">doesn’t</text>
<text x="584.80" y="317.60" font-size="12.9" fill="#262626" textLength="45.30" lengthAdjust="spacingAndGlyphs" stroke="#262626" stroke-width="0.25">degrade</text>
<text x="372.63" y="332.30" font-size="12.9" fill="#262626" textLength="45.18" lengthAdjust="spacingAndGlyphs" stroke="#262626" stroke-width="0.25">neurons</text>
<text x="421.88" y="332.30" font-size="12.9" fill="#262626" textLength="24.39" lengthAdjust="spacingAndGlyphs" stroke="#262626" stroke-width="0.25">until</text>
<text x="450.32" y="332.30" font-size="12.9" fill="#262626" textLength="17.38" lengthAdjust="spacingAndGlyphs" stroke="#262626" stroke-width="0.25">the</text>
<text x="472.40" y="332.30" font-size="12.9" fill="#262626" textLength="58.52" lengthAdjust="spacingAndGlyphs" stroke="#262626" stroke-width="0.25">expression</text>
<text x="535.43" y="332.30" font-size="12.9" fill="#262626" textLength="10.51" lengthAdjust="spacingAndGlyphs" stroke="#262626" stroke-width="0.25">of</text>
<text x="549.17" y="332.30" font-size="12.9" fill="#262626" textLength="27.98" lengthAdjust="spacingAndGlyphs" stroke="#262626" stroke-width="0.25">A53T</text>
<text x="580.31" y="332.30" font-size="12.9" fill="#262626" textLength="9.01" lengthAdjust="spacingAndGlyphs" stroke="#262626" stroke-width="0.25">is</text>
<text x="593.18" y="332.30" font-size="12.9" fill="#262626" textLength="37.02" lengthAdjust="spacingAndGlyphs" stroke="#262626" stroke-width="0.25">turned</text>
<text x="373.60" y="347.20" font-size="12.9" fill="#262626" textLength="13.42" lengthAdjust="spacingAndGlyphs" stroke="#262626" stroke-width="0.25">on</text>
<text x="370.44" y="393.70" font-size="12.9" fill="#262626" textLength="27.96" lengthAdjust="spacingAndGlyphs" stroke="#262626" stroke-width="0.25">Once</text>
<text x="419.06" y="393.70" font-size="12.9" fill="#262626" textLength="36.85" lengthAdjust="spacingAndGlyphs" stroke="#262626" stroke-width="0.25">turned</text>
<text x="475.96" y="393.70" font-size="12.9" fill="#262626" textLength="17.38" lengthAdjust="spacingAndGlyphs" stroke="#262626" stroke-width="0.25">on,</text>
<text x="512.70" y="393.70" font-size="12.9" fill="#262626" textLength="27.63" lengthAdjust="spacingAndGlyphs" stroke="#262626" stroke-width="0.25">A53T</text>
<text x="560.87" y="393.70" font-size="12.9" fill="#262626" textLength="43.01" lengthAdjust="spacingAndGlyphs" stroke="#262626" stroke-width="0.25">induces</text>
<text x="623.02" y="393.70" font-size="12.9" fill="#262626" textLength="23.98" lengthAdjust="spacingAndGlyphs" stroke="#262626" stroke-width="0.25">50%</text>
<text x="369.80" y="408.50" font-size="12.9" fill="#262626" textLength="107.83" lengthAdjust="spacingAndGlyphs" stroke="#262626" stroke-width="0.25">neurodegeneration</text>
<text x="513.37" y="408.50" font-size="12.9" fill="#262626" textLength="10.40" lengthAdjust="spacingAndGlyphs" stroke="#262626" stroke-width="0.25">in</text>
<text x="559.20" y="408.50" font-size="12.9" fill="#262626" textLength="7.17" lengthAdjust="spacingAndGlyphs" stroke="#262626" stroke-width="0.25">6</text>
<text x="600.67" y="408.50" font-size="12.9" fill="#262626" textLength="47.21" lengthAdjust="spacingAndGlyphs" stroke="#262626" stroke-width="0.25">months.</text>
<text x="369.27" y="423.40" font-size="12.9" fill="#262626" textLength="31.23" lengthAdjust="spacingAndGlyphs" stroke="#262626" stroke-width="0.25">NOTE</text>
<text x="404.35" y="423.40" font-size="12.9" fill="#262626" textLength="21.22" lengthAdjust="spacingAndGlyphs" stroke="#262626" stroke-width="0.25">loss</text>
<text x="429.05" y="423.40" font-size="12.9" fill="#262626" textLength="8.76" lengthAdjust="spacingAndGlyphs" stroke="#262626" stroke-width="0.25">is</text>
<text x="441.70" y="423.40" font-size="12.9" fill="#262626" textLength="33.74" lengthAdjust="spacingAndGlyphs" stroke="#262626" stroke-width="0.25">visible</text>
<text x="480.04" y="423.40" font-size="12.9" fill="#262626" textLength="9.86" lengthAdjust="spacingAndGlyphs" stroke="#262626" stroke-width="0.25">in</text>
<text x="493.43" y="423.40" font-size="12.9" fill="#262626" textLength="16.57" lengthAdjust="spacingAndGlyphs" stroke="#262626" stroke-width="0.25">the</text>
<text x="516.49" y="423.40" font-size="12.9" fill="#262626" textLength="23.59" lengthAdjust="spacingAndGlyphs" stroke="#262626" stroke-width="0.25">dark</text>
<text x="543.97" y="423.40" font-size="12.9" fill="#262626" textLength="43.36" lengthAdjust="spacingAndGlyphs" stroke="#262626" stroke-width="0.25">patches</text>
<text x="591.83" y="423.40" font-size="12.9" fill="#262626" textLength="10.42" lengthAdjust="spacingAndGlyphs" stroke="#262626" stroke-width="0.25">of</text>
<text x="606.59" y="423.40" font-size="12.9" fill="#262626" textLength="40.88" lengthAdjust="spacingAndGlyphs" stroke="#262626" stroke-width="0.25">stained</text>
<text x="369.82" y="438.30" font-size="12.9" fill="#262626" textLength="44.90" lengthAdjust="spacingAndGlyphs" stroke="#262626" stroke-width="0.25">neurons</text>
<text x="420.96" y="438.30" font-size="12.9" fill="#262626" textLength="14.12" lengthAdjust="spacingAndGlyphs" stroke="#262626" stroke-width="0.25">on</text>
<text x="440.53" y="438.30" font-size="12.9" fill="#262626" textLength="17.95" lengthAdjust="spacingAndGlyphs" stroke="#262626" stroke-width="0.25">the</text>
<text x="463.96" y="438.30" font-size="12.9" fill="#262626" textLength="25.83" lengthAdjust="spacingAndGlyphs" stroke="#262626" stroke-width="0.25">right</text>
<text x="494.59" y="438.30" font-size="12.9" fill="#262626" textLength="24.58" lengthAdjust="spacingAndGlyphs" stroke="#262626" stroke-width="0.25">half.</text>
<text x="530.42" y="438.30" font-size="12.9" fill="#262626" textLength="21.27" lengthAdjust="spacingAndGlyphs" stroke="#262626" stroke-width="0.25">The</text>
<text x="556.10" y="438.30" font-size="12.9" fill="#262626" textLength="18.35" lengthAdjust="spacingAndGlyphs" stroke="#262626" stroke-width="0.25">left</text>
<text x="579.79" y="438.30" font-size="12.9" fill="#262626" textLength="21.37" lengthAdjust="spacingAndGlyphs" stroke="#262626" stroke-width="0.25">half</text>
<text x="606.17" y="438.30" font-size="12.9" fill="#262626" textLength="22.30" lengthAdjust="spacingAndGlyphs" stroke="#262626" stroke-width="0.25">was</text>
<text x="633.00" y="438.30" font-size="12.9" fill="#262626" textLength="14.33" lengthAdjust="spacingAndGlyphs" stroke="#262626" stroke-width="0.25">an</text>
<text x="369.79" y="453.10" font-size="12.9" fill="#262626" textLength="44.38" lengthAdjust="spacingAndGlyphs" stroke="#262626" stroke-width="0.25">internal</text>
<text x="417.05" y="453.10" font-size="12.9" fill="#262626" textLength="39.82" lengthAdjust="spacingAndGlyphs" stroke="#262626" stroke-width="0.25">control</text>
<text x="459.53" y="453.10" font-size="12.9" fill="#262626" textLength="21.15" lengthAdjust="spacingAndGlyphs" stroke="#262626" stroke-width="0.25">and</text>
<text x="482.80" y="453.10" font-size="12.9" fill="#262626" textLength="9.32" lengthAdjust="spacingAndGlyphs" stroke="#262626" stroke-width="0.25">is</text>
<text x="495.10" y="453.10" font-size="12.9" fill="#262626" textLength="63.67" lengthAdjust="spacingAndGlyphs" stroke="#262626" stroke-width="0.25">unaffected.</text>
<text x="371.82" y="500.90" font-size="12.9" fill="#262626" textLength="33.25" lengthAdjust="spacingAndGlyphs" stroke="#262626" stroke-width="0.25">When</text>
<text x="408.66" y="500.90" font-size="12.9" fill="#262626" textLength="17.30" lengthAdjust="spacingAndGlyphs" stroke="#262626" stroke-width="0.25">the</text>
<text x="430.40" y="500.90" font-size="12.9" fill="#262626" textLength="59.73" lengthAdjust="spacingAndGlyphs" stroke="#262626" stroke-width="0.25">expression</text>
<text x="494.50" y="500.90" font-size="12.9" fill="#262626" textLength="10.37" lengthAdjust="spacingAndGlyphs" stroke="#262626" stroke-width="0.25">of</text>
<text x="508.60" y="500.90" font-size="12.9" fill="#262626" textLength="28.03" lengthAdjust="spacingAndGlyphs" stroke="#262626" stroke-width="0.25">A53T</text>
<text x="540.20" y="500.90" font-size="12.9" fill="#262626" textLength="8.95" lengthAdjust="spacingAndGlyphs" stroke="#262626" stroke-width="0.25">is</text>
<text x="552.98" y="500.90" font-size="12.9" fill="#262626" textLength="37.01" lengthAdjust="spacingAndGlyphs" stroke="#262626" stroke-width="0.25">turned</text>
<text x="594.45" y="500.90" font-size="12.9" fill="#262626" textLength="17.40" lengthAdjust="spacingAndGlyphs" stroke="#262626" stroke-width="0.25">on,</text>
<text x="615.69" y="500.90" font-size="12.9" fill="#262626" textLength="18.69" lengthAdjust="spacingAndGlyphs" stroke="#262626" stroke-width="0.25">but</text>
<text x="637.38" y="500.90" font-size="12.9" fill="#262626" textLength="10.10" lengthAdjust="spacingAndGlyphs" stroke="#262626" stroke-width="0.25">c-</text>
<text x="371.57" y="515.70" font-size="12.9" fill="#262626" textLength="18.49" lengthAdjust="spacingAndGlyphs" stroke="#262626" stroke-width="0.25">Abl</text>
<text x="393.35" y="515.70" font-size="12.9" fill="#262626" textLength="9.12" lengthAdjust="spacingAndGlyphs" stroke="#262626" stroke-width="0.25">is</text>
<text x="407.30" y="515.70" font-size="12.9" fill="#262626" textLength="59.52" lengthAdjust="spacingAndGlyphs" stroke="#262626" stroke-width="0.25">genetically</text>
<text x="471.02" y="515.70" font-size="12.9" fill="#262626" textLength="43.26" lengthAdjust="spacingAndGlyphs" stroke="#262626" stroke-width="0.25">deleted</text>
<text x="519.17" y="515.70" font-size="12.9" fill="#262626" textLength="26.59" lengthAdjust="spacingAndGlyphs" stroke="#262626" stroke-width="0.25">from</text>
<text x="550.23" y="515.70" font-size="12.9" fill="#262626" textLength="18.26" lengthAdjust="spacingAndGlyphs" stroke="#262626" stroke-width="0.25">the</text>
<text x="572.58" y="515.70" font-size="12.9" fill="#262626" textLength="38.54" lengthAdjust="spacingAndGlyphs" stroke="#262626" stroke-width="0.25">mouse</text>
<text x="614.92" y="515.70" font-size="12.9" fill="#262626" textLength="32.40" lengthAdjust="spacingAndGlyphs" stroke="#262626" stroke-width="0.25">brain,</text>
<text x="371.70" y="530.30" font-size="12.9" fill="#262626" textLength="20.39" lengthAdjust="spacingAndGlyphs" stroke="#262626" stroke-width="0.25">you</text>
<text x="399.99" y="530.30" font-size="12.9" fill="#262626" textLength="28.47" lengthAdjust="spacingAndGlyphs" stroke="#262626" stroke-width="0.25">don’t</text>
<text x="436.99" y="530.30" font-size="12.9" fill="#262626" textLength="17.44" lengthAdjust="spacingAndGlyphs" stroke="#262626" stroke-width="0.25">get</text>
<text x="462.36" y="530.30" font-size="12.9" fill="#262626" textLength="19.89" lengthAdjust="spacingAndGlyphs" stroke="#262626" stroke-width="0.25">any</text>
<text x="489.49" y="530.30" font-size="12.9" fill="#262626" textLength="112.63" lengthAdjust="spacingAndGlyphs" stroke="#262626" stroke-width="0.25">neurodegeneration.</text>
<text x="618.15" y="530.30" font-size="12.9" fill="#262626" textLength="29.73" lengthAdjust="spacingAndGlyphs" stroke="#262626" stroke-width="0.25">Thus,</text>
<text x="371.71" y="545.10" font-size="12.9" fill="#262626" textLength="27.52" lengthAdjust="spacingAndGlyphs" stroke="#262626" stroke-width="0.25">even</text>
<text x="403.13" y="545.10" font-size="12.9" fill="#262626" textLength="39.17" lengthAdjust="spacingAndGlyphs" stroke="#262626" stroke-width="0.25">though</text>
<text x="447.59" y="545.10" font-size="12.9" fill="#262626" textLength="17.74" lengthAdjust="spacingAndGlyphs" stroke="#262626" stroke-width="0.25">the</text>
<text x="470.68" y="545.10" font-size="12.9" fill="#262626" textLength="37.30" lengthAdjust="spacingAndGlyphs" stroke="#262626" stroke-width="0.25">clumps</text>
<text x="514.81" y="545.10" font-size="12.9" fill="#262626" textLength="10.66" lengthAdjust="spacingAndGlyphs" stroke="#262626" stroke-width="0.25">of</text>
<text x="530.71" y="545.10" font-size="12.9" fill="#262626" textLength="31.79" lengthAdjust="spacingAndGlyphs" stroke="#262626" stroke-width="0.25">α-syn</text>
<text x="567.28" y="545.10" font-size="12.9" fill="#262626" textLength="18.17" lengthAdjust="spacingAndGlyphs" stroke="#262626" stroke-width="0.25">are</text>
<text x="589.32" y="545.10" font-size="12.9" fill="#262626" textLength="43.15" lengthAdjust="spacingAndGlyphs" stroke="#262626" stroke-width="0.25">present</text>
<text x="637.48" y="545.10" font-size="12.9" fill="#262626" textLength="10.19" lengthAdjust="spacingAndGlyphs" stroke="#262626" stroke-width="0.25">in</text>
<text x="371.47" y="559.90" font-size="12.9" fill="#262626" textLength="17.28" lengthAdjust="spacingAndGlyphs" stroke="#262626" stroke-width="0.25">the</text>
<text x="395.50" y="559.90" font-size="12.9" fill="#262626" textLength="25.37" lengthAdjust="spacingAndGlyphs" stroke="#262626" stroke-width="0.25">right</text>
<text x="427.94" y="559.90" font-size="12.9" fill="#262626" textLength="36.16" lengthAdjust="spacingAndGlyphs" stroke="#262626" stroke-width="0.25">region</text>
<text x="469.55" y="559.90" font-size="12.9" fill="#262626" textLength="10.46" lengthAdjust="spacingAndGlyphs" stroke="#262626" stroke-width="0.25">of</text>
<text x="486.90" y="559.90" font-size="12.9" fill="#262626" textLength="17.43" lengthAdjust="spacingAndGlyphs" stroke="#262626" stroke-width="0.25">the</text>
<text x="510.92" y="559.90" font-size="12.9" fill="#262626" textLength="31.14" lengthAdjust="spacingAndGlyphs" stroke="#262626" stroke-width="0.25">brain,</text>
<text x="549.96" y="559.90" font-size="12.9" fill="#262626" textLength="23.78" lengthAdjust="spacingAndGlyphs" stroke="#262626" stroke-width="0.25">they</text>
<text x="580.91" y="559.90" font-size="12.9" fill="#262626" textLength="29.02" lengthAdjust="spacingAndGlyphs" stroke="#262626" stroke-width="0.25">don’t</text>
<text x="616.15" y="559.90" font-size="12.9" fill="#262626" textLength="31.78" lengthAdjust="spacingAndGlyphs" stroke="#262626" stroke-width="0.25">cause</text>
<text x="371.58" y="574.70" font-size="12.9" fill="#262626" textLength="40.84" lengthAdjust="spacingAndGlyphs" stroke="#262626" stroke-width="0.25">disease</text>
<text x="415.96" y="574.70" font-size="12.9" fill="#262626" textLength="24.53" lengthAdjust="spacingAndGlyphs" stroke="#262626" stroke-width="0.25">until</text>
<text x="444.09" y="574.70" font-size="12.9" fill="#262626" textLength="28.59" lengthAdjust="spacingAndGlyphs" stroke="#262626" stroke-width="0.25">c-Abl</text>
<text x="476.43" y="574.70" font-size="12.9" fill="#262626" textLength="24.18" lengthAdjust="spacingAndGlyphs" stroke="#262626" stroke-width="0.25">acts</text>
<text x="502.88" y="574.70" font-size="12.9" fill="#262626" textLength="12.84" lengthAdjust="spacingAndGlyphs" stroke="#262626" stroke-width="0.25">on</text>
<text x="518.46" y="574.70" font-size="12.9" fill="#262626" textLength="28.54" lengthAdjust="spacingAndGlyphs" stroke="#262626" stroke-width="0.25">them</text>
<text x="967.82" y="243.90" font-size="16.6" fill="#fff" textLength="112.01" lengthAdjust="spacingAndGlyphs">No c-Abl = No</text>
<text x="967.88" y="267.10" font-size="16.6" fill="#fff" textLength="155.89" lengthAdjust="spacingAndGlyphs">neurodegeneration</text>
<text x="942.30" y="417.00" font-size="14.7" fill="#111" textLength="50.38" lengthAdjust="spacingAndGlyphs" stroke="#111" stroke-width="0.2">Control</text>
<text x="940.64" y="450.50" font-size="14.7" fill="#111" textLength="67.69" lengthAdjust="spacingAndGlyphs" stroke="#111" stroke-width="0.2">Synuclein</text>
<text x="1013.40" y="450.50" font-size="14.7" fill="#111" textLength="68.76" lengthAdjust="spacingAndGlyphs" stroke="#111" stroke-width="0.2">aggregate</text>
<text x="940.64" y="483.60" font-size="14.7" fill="#111" textLength="67.69" lengthAdjust="spacingAndGlyphs" stroke="#111" stroke-width="0.2">Synuclein</text>
<text x="1013.40" y="483.60" font-size="14.7" fill="#111" textLength="68.76" lengthAdjust="spacingAndGlyphs" stroke="#111" stroke-width="0.2">aggregate</text>
<text x="1087.75" y="483.60" font-size="14.7" fill="#111" textLength="29.84" lengthAdjust="spacingAndGlyphs" stroke="#111" stroke-width="0.2">with</text>
<text x="1122.08" y="483.60" font-size="14.7" fill="#111" textLength="12.91" lengthAdjust="spacingAndGlyphs" stroke="#111" stroke-width="0.2">c-</text>
<text x="941.86" y="501.80" font-size="14.7" fill="#111" textLength="22.44" lengthAdjust="spacingAndGlyphs" stroke="#111" stroke-width="0.2">Abl</text>
<text x="969.70" y="501.80" font-size="14.7" fill="#111" textLength="52.10" lengthAdjust="spacingAndGlyphs" stroke="#111" stroke-width="0.2">deleted</text>
<text x="716.60" y="282.30" font-size="12.6" font-weight="bold" fill="#111" textLength="32.14" lengthAdjust="spacingAndGlyphs" stroke="#111" stroke-width="0.35">7000</text>
<text x="716.60" y="321.10" font-size="12.6" font-weight="bold" fill="#111" textLength="32.14" lengthAdjust="spacingAndGlyphs" stroke="#111" stroke-width="0.35">6000</text>
<text x="716.60" y="359.90" font-size="12.6" font-weight="bold" fill="#111" textLength="32.14" lengthAdjust="spacingAndGlyphs" stroke="#111" stroke-width="0.35">5000</text>
<text x="716.60" y="398.60" font-size="12.6" font-weight="bold" fill="#111" textLength="32.14" lengthAdjust="spacingAndGlyphs" stroke="#111" stroke-width="0.35">4000</text>
<text x="716.60" y="437.50" font-size="12.6" font-weight="bold" fill="#111" textLength="32.14" lengthAdjust="spacingAndGlyphs" stroke="#111" stroke-width="0.35">3000</text>
<text x="716.60" y="476.20" font-size="12.6" font-weight="bold" fill="#111" textLength="32.14" lengthAdjust="spacingAndGlyphs" stroke="#111" stroke-width="0.35">2000</text>
<text x="716.60" y="514.90" font-size="12.6" font-weight="bold" fill="#111" textLength="32.14" lengthAdjust="spacingAndGlyphs" stroke="#111" stroke-width="0.35">1000</text>
<text x="741.30" y="553.60" font-size="12.6" font-weight="bold" fill="#111" textLength="7.02" lengthAdjust="spacingAndGlyphs" stroke="#111" stroke-width="0.35">0</text>
<text x="780.96" y="313.30" font-size="16" font-weight="bold" fill="#111" textLength="12.33" lengthAdjust="spacingAndGlyphs">**</text>
<text x="800.64" y="313.30" font-size="16" font-weight="bold" fill="#111" textLength="12.39" lengthAdjust="spacingAndGlyphs">**</text>
<text x="845.46" y="341.50" font-size="16" font-weight="bold" fill="#111" textLength="12.04" lengthAdjust="spacingAndGlyphs">**</text>
<text x="864.34" y="341.50" font-size="16" font-weight="bold" fill="#111" textLength="12.10" lengthAdjust="spacingAndGlyphs">**</text>
<text x="784.43" y="570.90" font-size="14.4" font-weight="bold" fill="#111" textLength="35.23" lengthAdjust="spacingAndGlyphs" stroke="#111" stroke-width="0.3">Nissl</text>
<text x="856.27" y="570.90" font-size="14.4" font-weight="bold" fill="#111" textLength="19.25" lengthAdjust="spacingAndGlyphs" stroke="#111" stroke-width="0.3">TH</text>
<text x="768.40" y="589.60" font-size="6.6" fill="#333" textLength="123.44" lengthAdjust="spacingAndGlyphs">**: p &lt; 0.0001, p = 0.0154, p = 0.0001, p</text>
<text x="768.40" y="597.80" font-size="6.6" fill="#333" textLength="64.53" lengthAdjust="spacingAndGlyphs">= 0.0225, left-to-right</text>
<text x="9.50" y="659.00" font-size="7.7" fill="#222" textLength="95.76" lengthAdjust="spacingAndGlyphs" stroke="#222" stroke-width="0.2">Brain 142:2380ff (2019)</text>
<text x="6.00" y="656.80" font-size="5.5" fill="#222" textLength="2.55" lengthAdjust="spacingAndGlyphs">1</text>
<text x="1032.83" y="659.70" font-size="12.4" fill="#333" textLength="126.22" lengthAdjust="spacingAndGlyphs">Inhibikase Therapeutics</text>
<text x="1166.60" y="659.70" font-size="14.5" fill="#111" textLength="8.18" lengthAdjust="spacingAndGlyphs">8</text>
</svg>
</body></html>
